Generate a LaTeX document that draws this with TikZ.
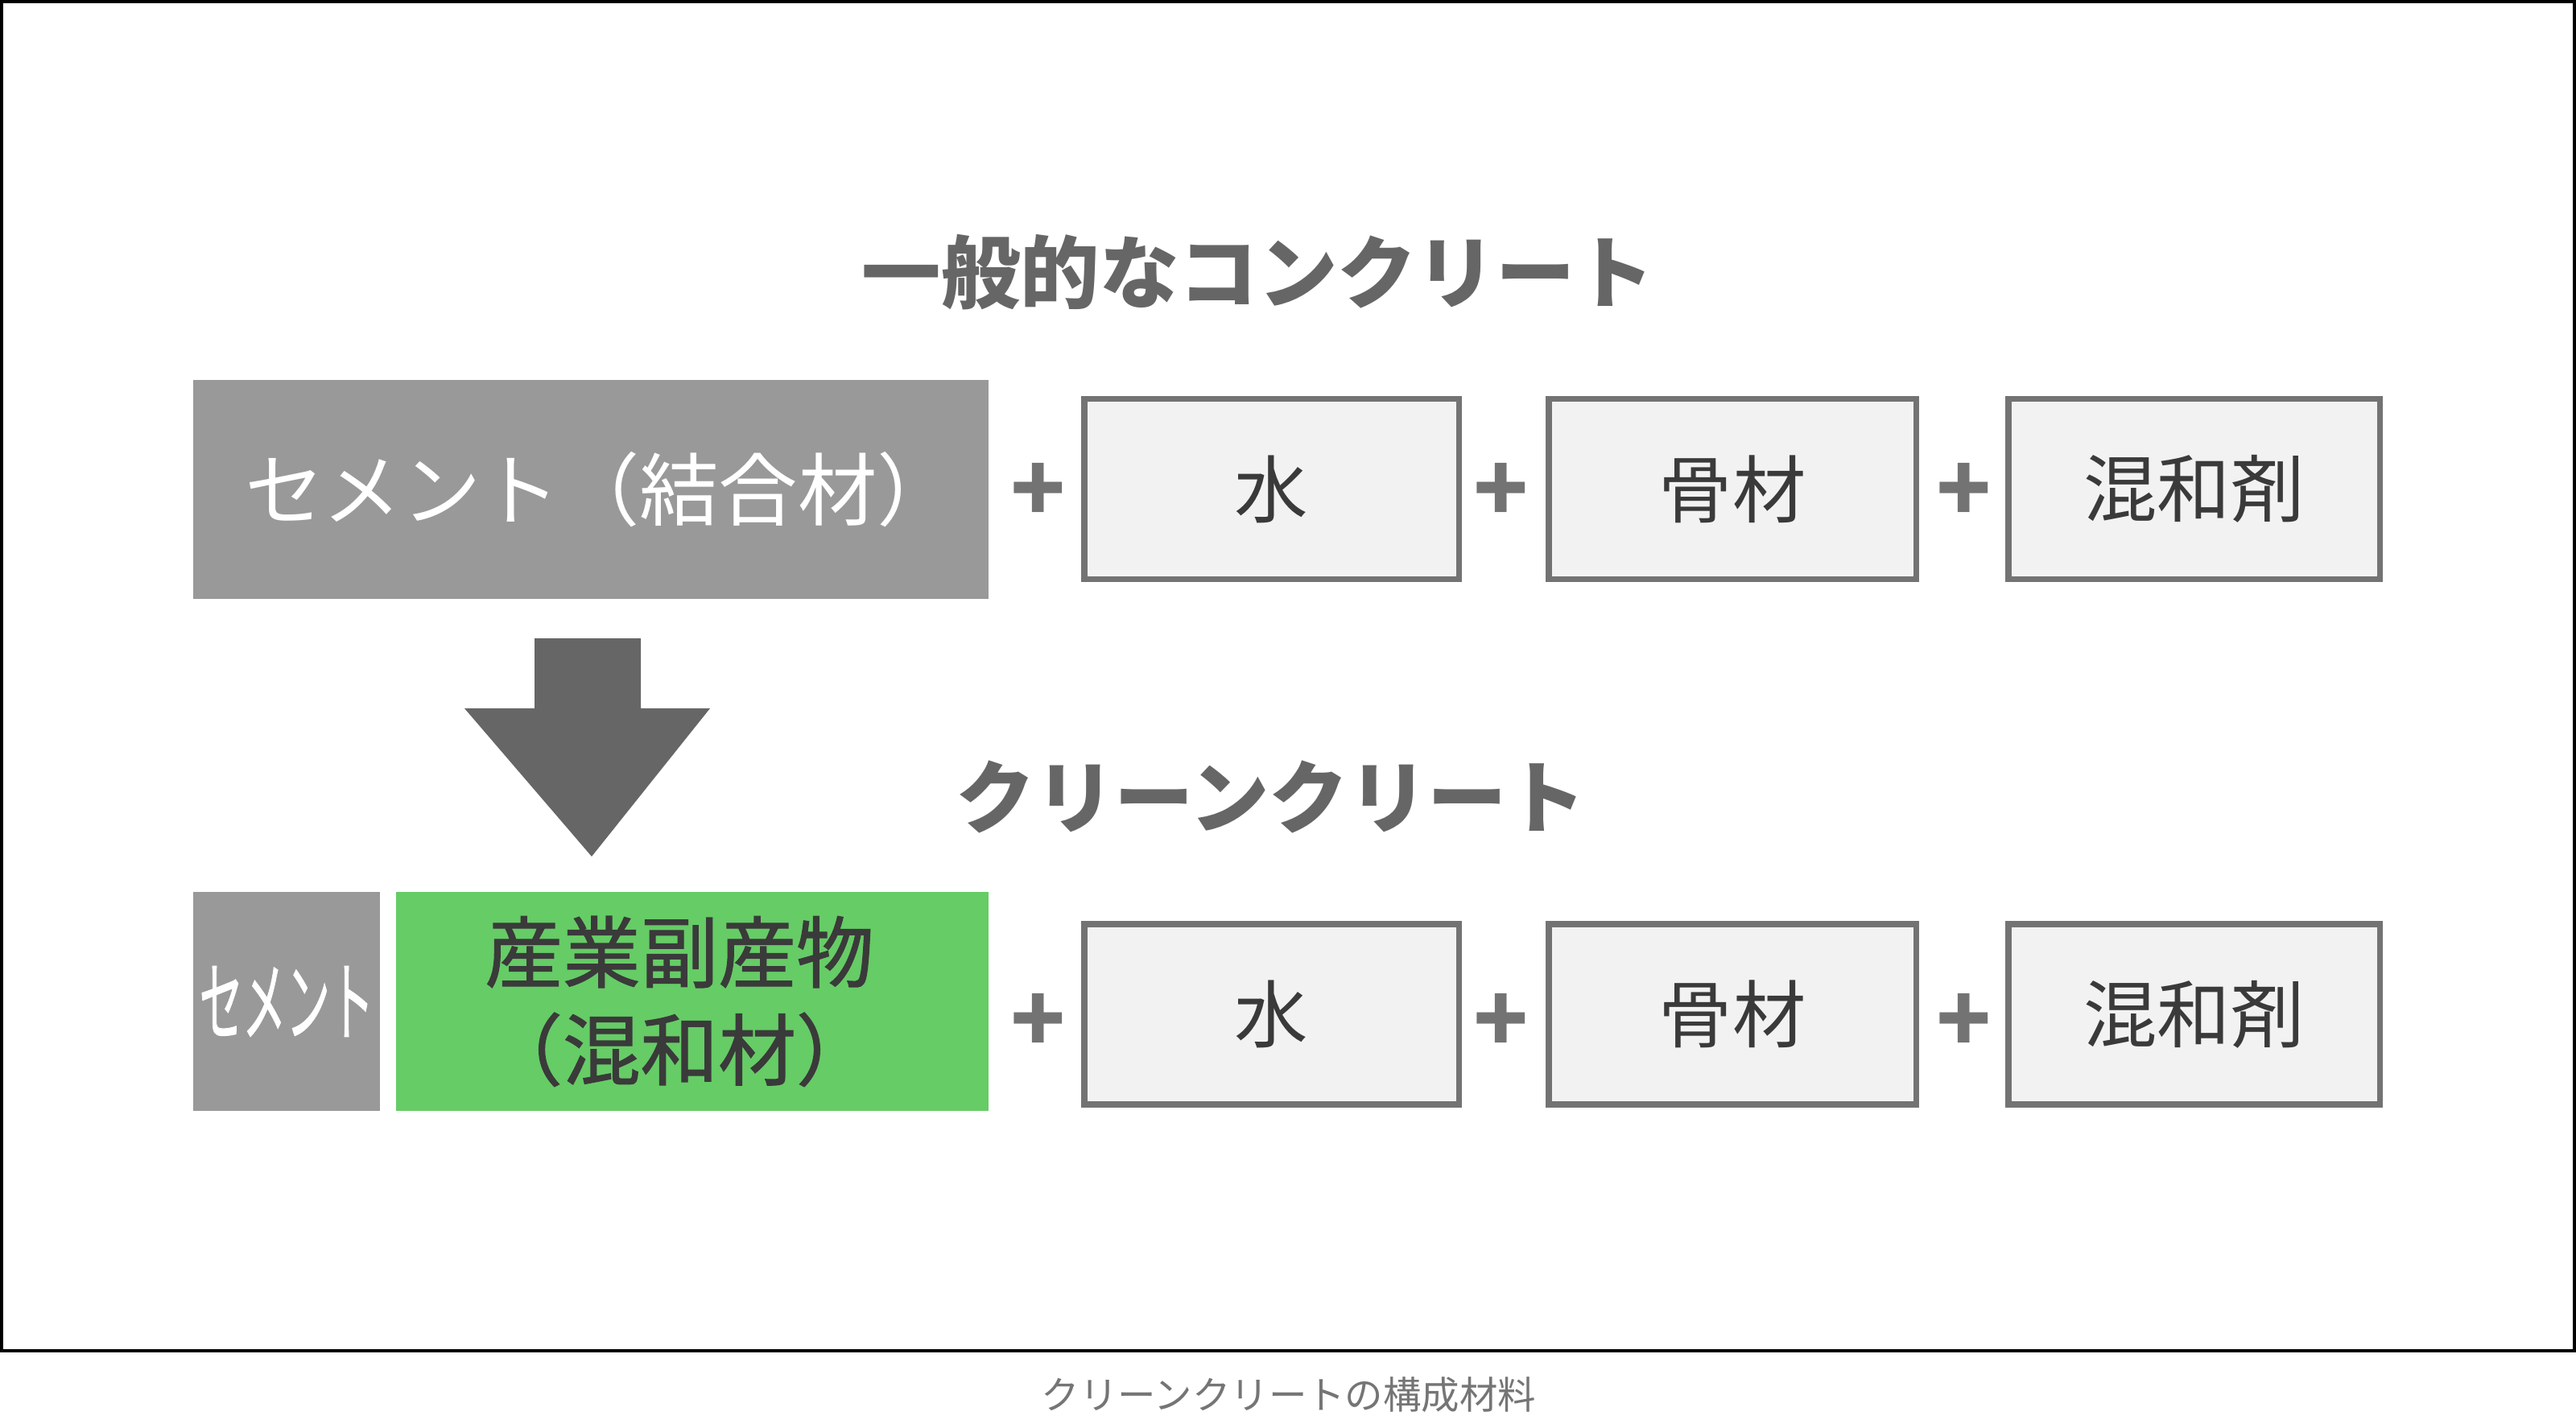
\documentclass[tikz,border=0pt]{standalone}
\usepackage{fontspec}
\setmainfont{Noto Sans CJK JP}
\newfontfamily\heavyfont[FakeBold=1.2]{Noto Sans CJK JP}
\usepackage{xcolor}
\definecolor{cementgray}{RGB}{153, 153, 153}
\definecolor{byproductgreen}{RGB}{102, 204, 102}
\definecolor{headgray}{RGB}{102, 102, 102}
\definecolor{boxline}{RGB}{115, 115, 115}
\definecolor{boxfill}{RGB}{242, 242, 242}
\definecolor{textdark}{RGB}{58, 58, 58}
\definecolor{captiongray}{RGB}{117, 117, 117}

\begin{document}
\begin{tikzpicture}[
    heading/.style={font=\fontsize{28}{34}\selectfont\bfseries, color=headgray, inner sep=0pt},
    binder/.style={rectangle, inner sep=0pt, minimum height=2.72cm, align=center, font=\fontsize{28}{34.5}\selectfont},
    material/.style={rectangle, draw=boxline, fill=boxfill, line width=0.075cm, minimum height=2.24cm, inner sep=0pt, font=\fontsize{26}{30}\selectfont, text=textdark},
    plussign/.style={font=\fontsize{32}{32}\selectfont\bfseries, color=boxline, inner sep=0pt},
]
\useasboundingbox (0, 0) rectangle (32, 17.64);

% Frame
\draw[line width=0.04cm] (0.02, 0.86) rectangle (31.98, 17.62);

% General concrete
\node[heading] (general) at (15.63, 14.26) {一般的なコンクリート};

\node[binder, fill=cementgray, text=white, minimum width=9.88cm] (cement) at (7.34, 11.56) {\hspace*{0.25em}セメント（結合材）};
\node[plussign] (plusA) at (12.90, 11.52) {+};
\node[material, minimum width=4.655cm] (water) at (15.795, 11.565) {水};
\node[plussign] (plusB) at (18.65, 11.52) {+};
\node[material, minimum width=4.565cm] (aggr) at (21.52, 11.565) {骨材};
\node[plussign] (plusC) at (24.40, 11.52) {+};
\node[material, minimum width=4.615cm] (admix) at (27.255, 11.565) {混和剤};

% Down arrow
\fill[headgray] (6.64, 9.71) -- (7.96, 9.71) -- (7.96, 8.84) -- (8.82, 8.84) -- (7.35, 7.00) -- (5.77, 8.84) -- (6.64, 8.84) -- cycle;

% Clean concrete
\node[heading] (clean) at (15.79, 7.74) {クリーンクリート};

\node[binder, fill=cementgray, text=white, minimum width=2.32cm] (cementsmall) at (3.56, 5.20) {\heavyfont\fontsize{31}{34}\selectfont\scalebox{0.5}[1]{セメント}};
\node[binder, fill=byproductgreen, minimum width=7.36cm] (byprod) at (8.60, 5.20) {};
\node[binder, minimum height=0pt, text=textdark, font=\heavyfont\fontsize{27.5}{34.5}\selectfont] (byprodtext) at ([xshift=-0.16cm]byprod.center) {産業副産物\\（混和材）};
\node[plussign] (plusD) at (12.90, 4.93) {+};
\node[material, minimum width=4.655cm] (water2) at (15.795, 5.04) {水};
\node[plussign] (plusE) at (18.65, 4.93) {+};
\node[material, minimum width=4.565cm] (aggr2) at (21.52, 5.04) {骨材};
\node[plussign] (plusF) at (24.40, 4.93) {+};
\node[material, minimum width=4.615cm] (admix2) at (27.255, 5.04) {混和剤};

% Caption
\node[font=\fontsize{13.5}{16}\selectfont, color=captiongray] (caption) at (16.01, 0.31) {クリーンクリートの構成材料};

\end{tikzpicture}
\end{document}
